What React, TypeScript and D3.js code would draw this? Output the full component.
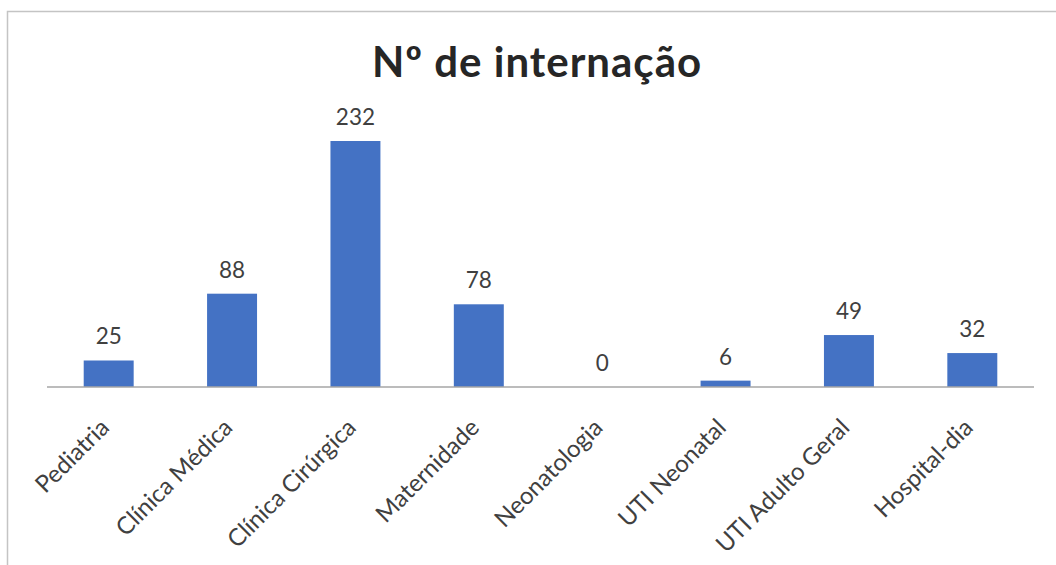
import React from "react";
import * as d3 from "d3";

const categories = [
  "Pediatria",
  "Clínica Médica",
  "Clínica Cirúrgica",
  "Maternidade",
  "Neonatologia",
  "UTI Neonatal",
  "UTI Adulto Geral",
  "Hospital-dia",
];
const values = [25, 88, 232, 78, 0, 6, 49, 32];
const title = "Nº de internação";

const W = 1056;
const H = 565;
const FONT = "Lato, 'Open Sans', sans-serif";

export default function App() {
  const baseline = 387;
  const x = d3
    .scaleBand<string>()
    .domain(categories)
    .range([47, 1034])
    .paddingInner(0.595)
    .paddingOuter(0.2975);
  const y = d3.scaleLinear().domain([0, 232]).range([baseline, 141]);

  return (
    <svg
      width={W}
      height={H}
      style={{ position: "absolute", left: 0, top: 0, background: "#fff" }}
    >
      <rect x={7.5} y={11.5} width={W + 10} height={H + 10} fill="#fff" stroke="#c4c4c4" strokeWidth={1.5} />
      <text
        x={537}
        y={77}
        textAnchor="middle"
        fontFamily={FONT}
        fontWeight={700}
        fontSize={42}
        letterSpacing={1}
        fill="#262626"
      >
        {title}
      </text>
      {categories.map((c, i) => {
        const v = values[i];
        const bx = x(c)!;
        const bw = x.bandwidth();
        const cx = bx + bw / 2;
        return (
          <g key={c}>
            <rect x={bx} y={y(v)} width={bw} height={baseline - y(v)} fill="#4472C4" />
            <text
              x={cx}
              y={y(v) - 16}
              textAnchor="middle"
              fontFamily={FONT}
              fontSize={22.5}
              fill="#404040"
            >
              {v}
            </text>
            <text
              transform={`translate(${cx + 2},${baseline + 42}) rotate(-45)`}
              textAnchor="end"
              fontFamily={FONT}
              fontSize={24}
              fill="#404040"
            >
              {c}
            </text>
          </g>
        );
      })}
      <line x1={47} x2={1034} y1={baseline} y2={baseline} stroke="#a6a6a6" strokeWidth={1.5} />
    </svg>
  );
}
